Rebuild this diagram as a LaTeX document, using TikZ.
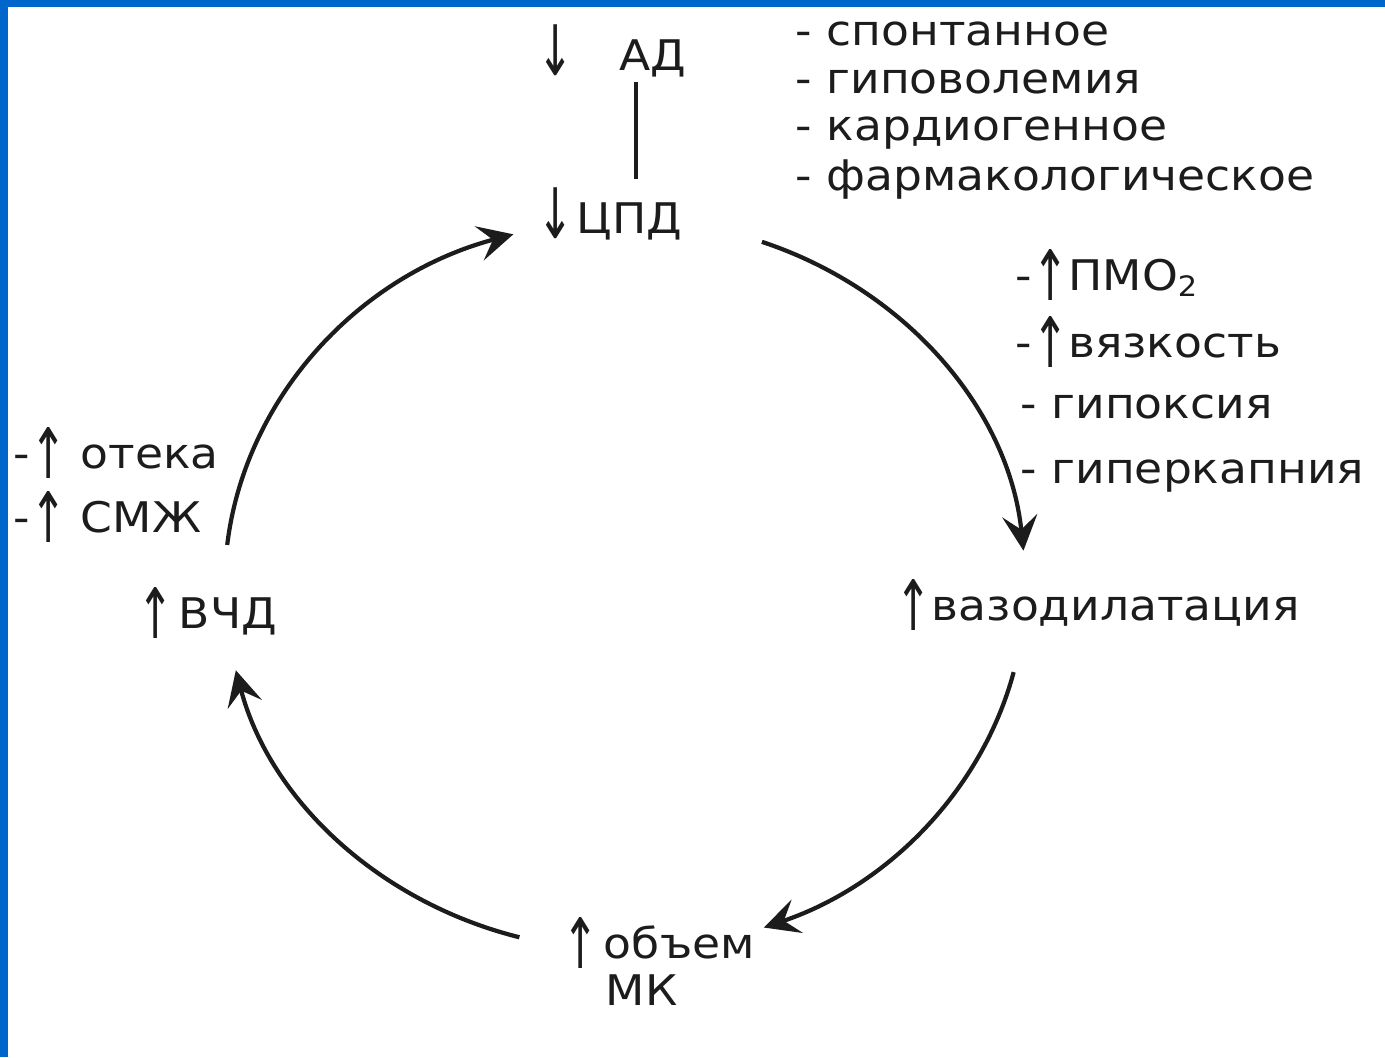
\documentclass[tikz,border=0pt]{standalone}
\usepackage{graphicx}
\usepackage{fontspec}
\setmainfont{DejaVu Sans}[FakeStretch=1.08]
\usetikzlibrary{arrows.meta}
\definecolor{frameblue}{RGB}{0,102,204}
\definecolor{inkgray}{RGB}{28,28,28}
\newcommand{\upa}{\raisebox{-0.1cm}{\scalebox{0.95}[1.65]{↑}}}
\newcommand{\dna}{\raisebox{-0.05cm}{\scalebox{0.95}[1.65]{↓}}}
\tikzset{
  lbl/.style={anchor=base west, inner sep=0pt, text=inkgray, font=\fontsize{12pt}{14pt}\selectfont},
  cyc/.style={line width=1.2pt, draw=inkgray, -{Stealth[length=10pt,width=10pt,inset=4pt]}},
  link/.style={line width=1.2pt, draw=inkgray}
}
\begin{document}
\begin{tikzpicture}[x=0.01cm,y=-0.01cm]
\useasboundingbox (0,0) rectangle (1385,1057);
\fill[white] (0,0) rectangle (1385,1057);
\fill[frameblue] (0,0) rectangle (1385,7);
\fill[frameblue] (0,0) rectangle (8,1057);

% labels
\node[lbl] (ad) at (537,70) {\dna\hspace{0.45cm}АД};
\node[lbl] (cpd) at (537,233) {\dna\hspace{0.03cm}ЦПД};
\node[lbl] (l1) at (795,45) {- спонтанное};
\node[lbl] (l2) at (795,93) {- гиповолемия};
\node[lbl] (l3) at (795,140) {- кардиогенное};
\node[lbl] (l4) at (795,190) {- фармакологическое};
\node[lbl] (r1) at (1015,290) {-\upa ПМО\textsubscript{2}};
\node[lbl] (r2) at (1015,357) {-\upa вязкость};
\node[lbl] (r3) at (1020,418) {- гипоксия};
\node[lbl] (r4) at (1020,483) {- гиперкапния};
\node[lbl] (vaso) at (895,620) {\upa вазодилатация};
\node[lbl] (vol) at (562,958) {\upa\hspace{0.05cm}объем};
\node[lbl] (mk) at (605,1005) {МК};
\node[lbl] (vcd) at (137,628) {\upa\hspace{0.05cm}ВЧД};
\node[lbl] (ot) at (13,468) {-\upa\ отека};
\node[lbl] (smzh) at (13,532) {-\upa\ СМЖ};

% link AD -- CPD
\coordinate (lx) at (636,0);
\draw[link] ([yshift=-0.05cm]ad.south -| lx) -- ([yshift=0.08cm]cpd.north -| lx);

% cycle
\coordinate (c) at (625,585);
\draw[cyc] ([shift={(70:4cm and 3.65cm)}]c) arc[start angle=70, end angle=5.4, x radius=4cm, y radius=3.65cm];
\draw[cyc] ([shift={(-13.8:4cm and 3.65cm)}]c) arc[start angle=-13.8, end angle=-69.7, x radius=4cm, y radius=3.65cm];
\draw[cyc] ([shift={(-105.3:4cm and 3.65cm)}]c) arc[start angle=-105.3, end angle=-166.5, x radius=4cm, y radius=3.65cm];
\draw[cyc] ([shift={(173.7:4cm and 3.65cm)}]c) arc[start angle=173.7, end angle=106.2, x radius=4cm, y radius=3.65cm];
\end{tikzpicture}
\end{document}
